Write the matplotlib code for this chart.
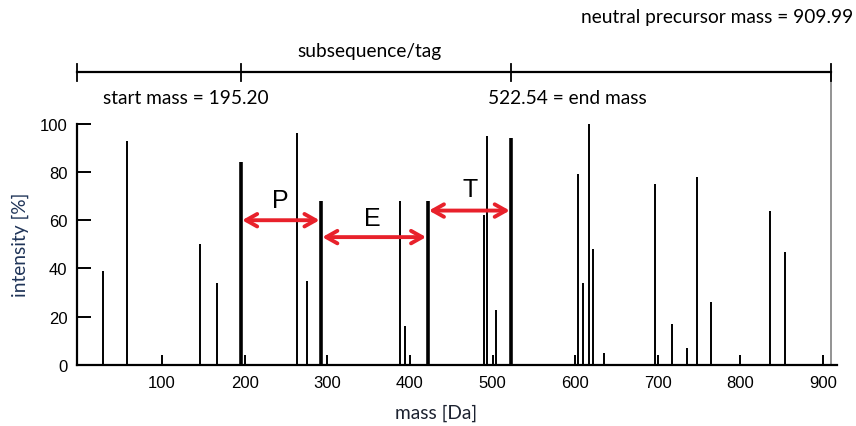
import matplotlib
matplotlib.use("Agg")
import matplotlib.pyplot as plt
from matplotlib.lines import Line2D

# ---- data ----
peak_mass = [28.9, 57.3, 146.0, 166.2, 263.0, 275.5, 388.5, 394.0, 489.8, 493.8,
             504.0, 603.0, 609.0, 617.3, 621.4, 635.0, 696.8, 717.0, 736.0, 747.3,
             765.0, 836.0, 853.9]
peak_int = [39, 93, 50, 34, 96, 35, 68, 16, 62, 95,
            23, 79, 34, 100, 48, 5, 75, 17, 7, 78,
            26, 64, 47]
tag_mass = [195.20, 292.25, 421.29, 522.54]
tag_int = [84, 68, 68, 94]
tag_letters = ["P", "E", "T"]
arrow_y = [60, 53, 64]
letter_pos = [(243, 68.5), (355, 61), (473, 73)]
precursor_mass = 909.99
xticks = [100, 200, 300, 400, 500, 600, 700, 800, 900]
yticks = [0, 20, 40, 60, 80, 100]

W, H = 856, 427
fig = plt.figure(figsize=(W / 100, H / 100), dpi=100)
ax = fig.add_axes([77 / W, 61 / H, 760 / W, 241.3 / H])
ax.set_xlim(-3, 917)
ax.set_ylim(0, 100)

ax.vlines(peak_mass, 0, peak_int, colors="black", lw=1.4)
ax.vlines(tag_mass, 0, tag_int, colors="black", lw=2.6)

red = "#E8212B"
for i, letter in enumerate(tag_letters):
    ax.annotate("", xy=(tag_mass[i + 1], arrow_y[i]), xytext=(tag_mass[i], arrow_y[i]),
                arrowprops=dict(arrowstyle="<->,head_length=0.8,head_width=0.45",
                                color=red, lw=2.8, shrinkA=1, shrinkB=1))
    ax.text(letter_pos[i][0], letter_pos[i][1], letter, ha="center", va="center",
            fontsize=18, family="Liberation Sans")

# spines
for s in ["top", "right"]:
    ax.spines[s].set_visible(False)
ax.spines["left"].set_linewidth(1.6)
ax.spines["bottom"].set_linewidth(1.6)

ax.set_xticks(xticks)
ax.set_yticks(yticks)
ax.tick_params(axis="x", direction="in", length=7.5, width=1.4, pad=7, labelsize=12)
ax.tick_params(axis="y", direction="in", length=10, width=1.4, pad=7, labelsize=12)
for lab in ax.get_xticklabels() + ax.get_yticklabels():
    lab.set_family("Liberation Sans")

# precursor line and bracket
ybr = 121.4
ax.add_line(Line2D([precursor_mass, precursor_mass], [0, ybr], color="#8a8a8a",
                   lw=1.3, clip_on=False))
ax.add_line(Line2D([-3, precursor_mass], [ybr, ybr], color="black", lw=1.6,
                   clip_on=False))
for xm in [-3, tag_mass[0], tag_mass[-1], precursor_mass]:
    ax.add_line(Line2D([xm, xm], [ybr - 3.5, ybr + 3.5], color="black", lw=1.3,
                       clip_on=False))

tf = "Lato"
fs = 13.8
fig.text(853 / W, 1 - 18 / H, "neutral precursor mass = %.2f" % precursor_mass,
         ha="right", va="center", fontsize=fs, family=tf)
fig.text(370 / W, 1 - 52 / H, "subsequence/tag", ha="center", va="center",
         fontsize=fs, family=tf)
fig.text(103 / W, 1 - 98 / H, "start mass = %.2f" % tag_mass[0], ha="left",
         va="center", fontsize=fs, family=tf)
fig.text(488 / W, 1 - 98 / H, "%.2f = end mass" % tag_mass[-1], ha="left",
         va="center", fontsize=fs, family=tf)
fig.text(436 / W, 1 - 413 / H, "mass [Da]", ha="center", va="center",
         fontsize=fs, family=tf, color="#1c2230")
fig.text(20 / W, 1 - 245 / H, "intensity [%]", ha="center", va="center",
         rotation=90, fontsize=fs, family=tf, color="#1F3458")

fig.savefig("out.png", dpi=100)
